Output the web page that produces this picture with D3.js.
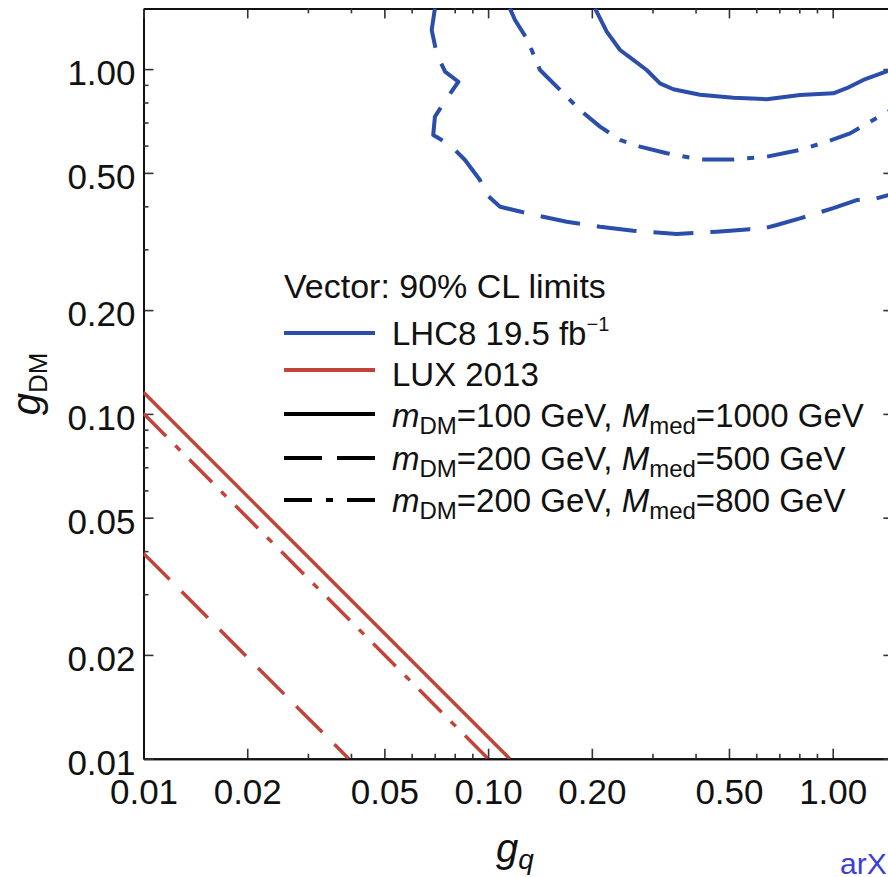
<!DOCTYPE html>
<html>
<head>
<meta charset="utf-8">
<script src="https://cdn.jsdelivr.net/npm/d3@7"></script>
<style>
  html, body { margin: 0; padding: 0; background: #ffffff; }
  svg { display: block; }
  text { font-family: "Liberation Sans", Arial, Helvetica, sans-serif; }
</style>
</head>
<body>
<svg id="chart" width="888" height="877"></svg>
<script>
// ---------------- data ----------------
const majorTicks = [0.01, 0.02, 0.05, 0.10, 0.20, 0.50, 1.00];
const minorTicks = [0.03, 0.04, 0.06, 0.07, 0.08, 0.09, 0.3, 0.4, 0.6, 0.7, 0.8, 0.9];

// LHC8 19.5 fb^-1 limits (g_q, g_DM)
const lhcM100M1000 = [
  [0.2043, 1.5], [0.2209, 1.284], [0.2415, 1.136], [0.2638, 1.063], [0.2885, 0.994],
  [0.3154, 0.909], [0.3446, 0.874], [0.412, 0.843], [0.515, 0.826], [0.6435, 0.818],
  [0.8036, 0.841], [1.004, 0.851], [1.098, 0.880], [1.227, 0.930], [1.447, 0.989], [1.5, 1.0]
];
const lhcM200M500 = [
  [0.0701, 1.5], [0.0686, 1.298], [0.0709, 1.111], [0.0750, 0.983], [0.0820, 0.919],
  [0.0759, 0.823], [0.0701, 0.728], [0.0693, 0.644], [0.0775, 0.603], [0.0857, 0.545],
  [0.0947, 0.477], [0.098, 0.436], [0.1083, 0.399], [0.1353, 0.378], [0.1691, 0.361],
  [0.2112, 0.349], [0.2638, 0.340], [0.3526, 0.3325], [0.4607, 0.3377], [0.5754, 0.343],
  [0.602, 0.341], [0.688, 0.353], [0.8036, 0.369], [1.004, 0.395], [1.174, 0.417],
  [1.311, 0.419], [1.447, 0.431], [1.5, 0.436]
];
const lhcM200M800 = [
  [0.1157, 1.5], [0.1197, 1.388], [0.1294, 1.228], [0.1415, 0.994], [0.1653, 0.851],
  [0.1848, 0.761], [0.2112, 0.681], [0.2415, 0.623], [0.276, 0.596], [0.330, 0.570],
  [0.412, 0.547], [0.515, 0.547], [0.6435, 0.557], [0.8036, 0.583], [0.961, 0.616],
  [1.123, 0.651], [1.311, 0.712], [1.447, 0.752], [1.5, 0.77]
];

// LUX 2013 limits (straight lines g_q * g_DM = const)
const luxM100M1000 = [[0.01, 0.1155], [0.1155, 0.01]];
const luxM200M500  = [[0.01, 0.0394], [0.0394, 0.01]];
const luxM200M800  = [[0.01, 0.1002], [0.1, 0.01]];

const legendTitle = "Vector: 90% CL limits";
const legendRows = [
  { kind: "LHC" }, { kind: "LUX" },
  { kind: "style", dash: null, m: "100", M: "1000" },
  { kind: "style", dash: "dash", m: "200", M: "500" },
  { kind: "style", dash: "dashdot", m: "200", M: "800" }
];

// ---------------- layout ----------------
const BLUE = "#2a4eaa", RED = "#c1443a";
const x0 = 143.5, decade = 344.6, y0 = 758.7, decY = 344.8;
const svg = d3.select("#chart");
const x = d3.scaleLog().domain([0.01, 1.5]).range([x0, x0 + decade * Math.log10(150)]);
const y = d3.scaleLog().domain([0.01, 1.5]).range([y0, y0 - decY * Math.log10(150)]);
const [xl, xr] = x.range();
const [yb, yt] = y.range();

const fmt = d3.format(".2f");

// clip
svg.append("clipPath").attr("id", "clip").append("rect")
  .attr("x", xl).attr("y", yt).attr("width", xr - xl).attr("height", yb - yt);

// axes (ticks inward)
function styleAxis(g) {
  g.selectAll(".domain").attr("stroke", "#111").attr("stroke-width", 2);
  g.selectAll(".tick line").attr("stroke", "#333").attr("stroke-width", 1.6);
  g.selectAll(".tick text").attr("fill", "#111").style("font-size", "35px")
    .style("font-family", '"Liberation Sans", Arial, sans-serif');
}
svg.append("g").attr("transform", `translate(0,${yb})`)
  .call(d3.axisBottom(x).tickValues(majorTicks).tickFormat(fmt).tickSizeInner(-10).tickSizeOuter(0).tickPadding(20))
  .call(styleAxis)
  .call(g => g.selectAll(".tick text").attr("dy", "0.72em"));
svg.append("g").attr("transform", `translate(0,${yb})`)
  .call(d3.axisBottom(x).tickValues(minorTicks).tickFormat("").tickSizeInner(-5).tickSizeOuter(0))
  .call(styleAxis);
svg.append("g").attr("transform", `translate(${xl},0)`)
  .call(d3.axisLeft(y).tickValues(majorTicks).tickFormat(fmt).tickSizeInner(-10).tickSizeOuter(0).tickPadding(8))
  .call(styleAxis)
  .call(g => g.selectAll(".tick text").attr("dy", "0.45em"));
svg.append("g").attr("transform", `translate(${xl},0)`)
  .call(d3.axisLeft(y).tickValues(minorTicks).tickFormat("").tickSizeInner(-5).tickSizeOuter(0))
  .call(styleAxis);
svg.append("g").attr("transform", `translate(0,${yt})`)
  .call(d3.axisTop(x).tickValues(majorTicks).tickFormat("").tickSizeInner(-10).tickSizeOuter(0))
  .call(styleAxis);
svg.append("g").attr("transform", `translate(0,${yt})`)
  .call(d3.axisTop(x).tickValues(minorTicks).tickFormat("").tickSizeInner(-5).tickSizeOuter(0))
  .call(styleAxis);
svg.append("g").attr("transform", `translate(${xr},0)`)
  .call(d3.axisRight(y).tickValues(majorTicks).tickFormat("").tickSizeInner(-10).tickSizeOuter(0))
  .call(styleAxis);
svg.append("g").attr("transform", `translate(${xr},0)`)
  .call(d3.axisRight(y).tickValues(minorTicks).tickFormat("").tickSizeInner(-5).tickSizeOuter(0))
  .call(styleAxis);

// curves
const line = d3.line().x(d => x(d[0])).y(d => y(d[1]));
const DASH = "40,17", DASHDOT = "32,13,7,13";
const plot = svg.append("g").attr("clip-path", "url(#clip)");
function draw(data, color, dash, w) {
  plot.append("path").datum(data).attr("d", line)
    .attr("fill", "none").attr("stroke", color).attr("stroke-width", w)
    .attr("stroke-linejoin", "round")
    .attr("stroke-dasharray", dash);
}
draw(lhcM100M1000, BLUE, null, 4);
draw(lhcM200M500, BLUE, DASH, 4);
draw(lhcM200M800, BLUE, DASHDOT, 4);
draw(luxM100M1000, RED, null, 3.5);
draw(luxM200M500, RED, "37,17", 3.5);
draw(luxM200M800, RED, DASHDOT, 3.5);

// legend
const lg = svg.append("g");
const lx1 = 284, lx2 = 375, tx = 392;
const lineYs = [333, 370, 414, 458, 500];
const textYs = [345, 386, 427, 470, 512];
lg.append("text").attr("x", lx1).attr("y", 298).style("font-size", "34px").attr("fill", "#111").text(legendTitle);
legendRows.forEach((r, i) => {
  const col = r.kind === "LHC" ? BLUE : r.kind === "LUX" ? RED : "#000";
  const dash = r.dash === "dash" ? "38,15" : r.dash === "dashdot" ? "28,14,7,14" : null;
  lg.append("line").attr("x1", lx1).attr("x2", lx2).attr("y1", lineYs[i]).attr("y2", lineYs[i])
    .attr("stroke", col).attr("stroke-width", 4).attr("stroke-dasharray", dash);
  const t = lg.append("text").attr("x", tx).attr("y", textYs[i]).style("font-size", "33px").attr("fill", "#111");
  if (r.kind === "LHC") {
    t.append("tspan").text("LHC8 19.5 fb");
    t.append("tspan").attr("dy", -14).style("font-size", "20px").text("\u22121");
  } else if (r.kind === "LUX") {
    t.text("LUX 2013");
  } else {
    t.append("tspan").style("font-style", "italic").text("m");
    t.append("tspan").attr("dy", 7).style("font-size", "24px").text("DM");
    t.append("tspan").attr("dy", -7).text(`=${r.m} GeV, `);
    t.append("tspan").style("font-style", "italic").text("M");
    t.append("tspan").attr("dy", 7).style("font-size", "24px").text("med");
    t.append("tspan").attr("dy", -7).text(`=${r.M} GeV`);
  }
});

// axis titles
const xt = svg.append("text").attr("x", 515).attr("y", 862).attr("text-anchor", "middle")
  .style("font-size", "40px").attr("fill", "#111");
xt.append("tspan").style("font-style", "italic").text("g");
xt.append("tspan").attr("dy", 7).style("font-size", "28px").style("font-style", "italic").text("q");

const yt2 = svg.append("text").attr("transform", "translate(40,384) rotate(-90)").attr("text-anchor", "middle")
  .style("font-size", "40px").attr("fill", "#111");
yt2.append("tspan").style("font-style", "italic").text("g");
yt2.append("tspan").attr("dy", 7).style("font-size", "26px").text("DM");

// watermark (cut off at the right edge, as in the reference)
svg.append("text").attr("x", 840).attr("y", 874).style("font-size", "30px").attr("fill", "#3b3fd2")
  .text("arXiv:1407.8257");
</script>
</body>
</html>
